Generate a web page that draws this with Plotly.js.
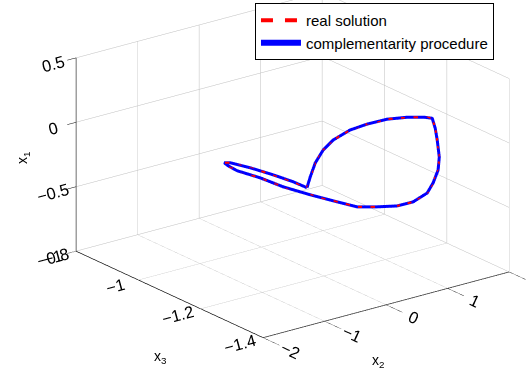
<!DOCTYPE html>
<html><head><meta charset="utf-8">
<script src="https://cdn.plot.ly/plotly-3.0.1.min.js"></script>
<style>html,body{margin:0;padding:0;background:#fff;}#chart{width:529px;height:377px;}</style>
</head><body><div id="chart"></div>
<script>
// curve samples (x2, x3, x1)
const x2 = [0.162,0.190,0.236,0.309,0.401,0.558,0.714,0.898,1.081,1.238,1.311,1.339,1.357,1.375,1.366,1.320,1.265,1.136,0.989,0.806,0.622,0.401,0.190,-0.058,-0.270,-0.481,-0.564,-0.600,-0.545,-0.361,-0.150,0.034,0.162];
const x3 = [-1.114,-1.119,-1.126,-1.137,-1.151,-1.174,-1.198,-1.226,-1.254,-1.278,-1.289,-1.293,-1.296,-1.299,-1.297,-1.290,-1.282,-1.262,-1.240,-1.212,-1.184,-1.151,-1.119,-1.081,-1.049,-1.017,-1.004,-0.999,-1.007,-1.035,-1.067,-1.095,-1.114];
const x1 = [-0.432,-0.346,-0.236,-0.132,-0.051,0.032,0.085,0.131,0.154,0.161,0.156,0.080,-0.012,-0.143,-0.244,-0.346,-0.426,-0.501,-0.538,-0.553,-0.561,-0.523,-0.485,-0.434,-0.373,-0.327,-0.292,-0.270,-0.268,-0.299,-0.345,-0.391,-0.432];

const x2Ticks = [-2,-1,0,1,2];
const x2TickText = ['−2','−1','0','1','2'];
const x3Ticks = [-1.4,-1.2,-1,-0.8];
const x3TickText = ['−1.4','−1.2','−1','−0.8'];
const x1Ticks = [-1,-0.5,0,0.5];
const x1TickText = ['−1','−0.5','0','0.5'];
const seriesNames = ['complementarity procedure','real solution'];
const axisTitles = ['x<sub>1</sub>','x<sub>2</sub>','x<sub>3</sub>'];

const font = {family:'Liberation Sans, Arial, sans-serif', size:14, color:'#000'};
function ax(ticks, text, range, tlen, tcol){
  return {
    title:{text:''}, range:range, autorange:false,
    tickmode:'array', tickvals:ticks, ticktext:text, tickfont:font,
    showgrid:true, gridcolor:'rgb(190,190,190)', gridwidth:1,
    zeroline:false, showline:true, linecolor:'#000', linewidth:1.5,
    ticks:'outside', ticklen:tlen, tickcolor:tcol,
    showbackground:false, showspikes:false
  };
}
const d = [-0.5664,-0.7453,0.3515];
const r = 3;
const k = 1.64;
const c = [-0.1455, 0.0552, -0.1173];
const traces = [
  {type:'scatter3d', mode:'lines', name:seriesNames[0], x:x2, y:x3, z:x1, line:{color:'rgb(0,0,255)', width:6}},
  {type:'scatter3d', mode:'lines', name:seriesNames[1], x:x2, y:x3, z:x1, line:{color:'rgb(255,0,0)', width:4, dash:'dash'}}
];
const layout = {
  width:529, height:377, margin:{l:0,r:0,t:0,b:0}, paper_bgcolor:'#fff', showlegend:true,
  legend:{x:0.482, y:0.992, xanchor:'left', yanchor:'top', traceorder:'reversed',
    bordercolor:'#000', borderwidth:1, bgcolor:'#fff', font:Object.assign({}, font, {size:15}), itemwidth:40},
  annotations:[
    {text:axisTitles[0], x:23, y:158, textangle:-90},
    {text:axisTitles[2], x:160, y:357},
    {text:axisTitles[1], x:378, y:361}
  ].map(a => Object.assign({xref:'paper', yref:'paper', showarrow:false, font:font,
      xanchor:'center', yanchor:'middle'}, a, {x:a.x/529, y:1 - a.y/377})),
  scene:{
    domain:{x:[0,1], y:[0,1]},
    xaxis:ax(x2Ticks, x2TickText, [-2,2], 11, '#000'),
    yaxis:ax(x3Ticks, x3TickText, [-1.4,-0.8], 27, 'rgba(0,0,0,0)'),
    zaxis:ax(x1Ticks, x1TickText, [-1,0.5], 5, '#000'),
    aspectmode:'manual', aspectratio:{x:k,y:k,z:0.668*k},
    camera:{eye:{x:c[0]+d[0]*r,y:c[1]+d[1]*r,z:c[2]+d[2]*r}, up:{x:0,y:0,z:1}, center:{x:c[0],y:c[1],z:c[2]}, projection:{type:'orthographic'}}
  }
};
Plotly.newPlot('chart', traces, layout, {displayModeBar:false});
</script>
</body></html>
